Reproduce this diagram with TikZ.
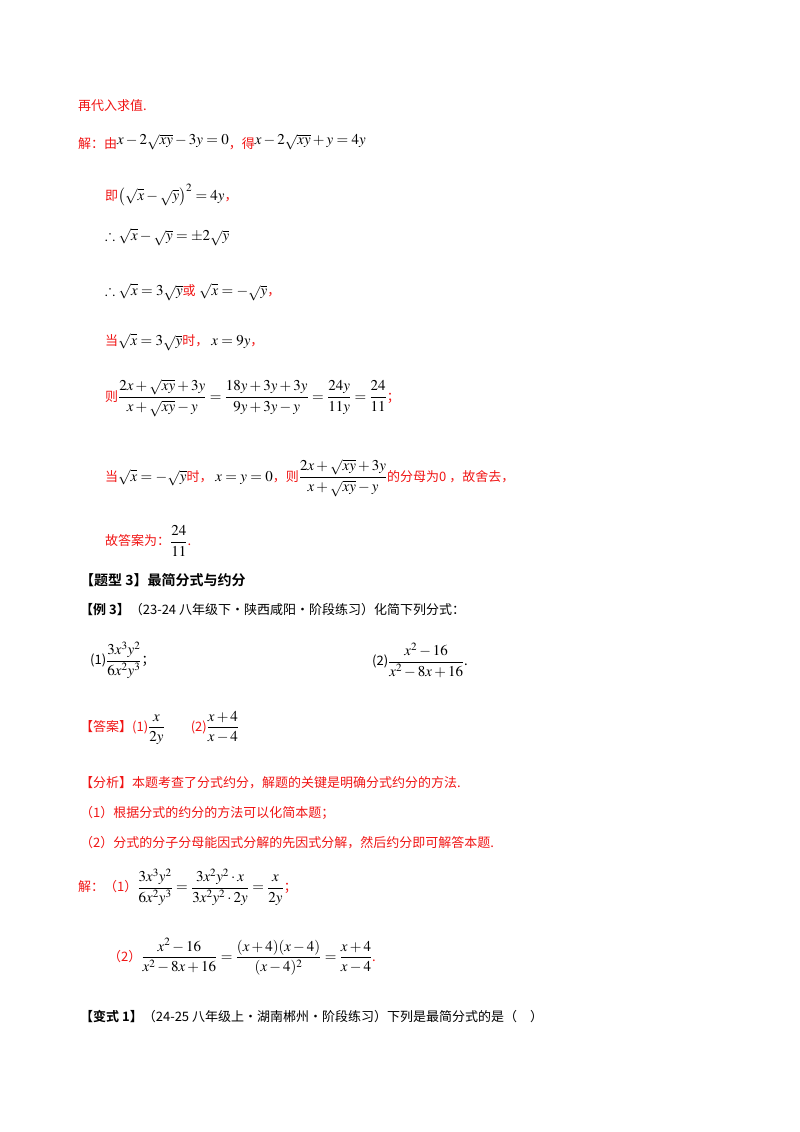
\documentclass[tikz,border=0pt]{standalone}
\usepackage{fontspec}
\usepackage{amsmath,amssymb}
\usepackage{mathptmx}
\setmainfont{Noto Sans CJK SC}
\newfontfamily\cjkb{Noto Sans CJK SC Bold}
\definecolor{rd}{RGB}{240,20,20}
\newcommand{\R}[1]{\textcolor{rd}{#1}}
\newcommand{\M}[1]{{\fontsize{15}{18}\selectfont$#1$}}
\begin{document}
\begin{tikzpicture}[x=1pt,y=-1pt,
  t/.style={anchor=west,inner sep=0pt,font=\fontsize{13}{16}\selectfont},
  r/.style={t,text=rd}]
\useasboundingbox (0,0) rectangle (800,1132);
\node[r] (l1) at (78,106) {再代入求值.};
\node[t] (l2) at (78,142) {\R{解：由}\raisebox{4pt}{\M{x-2\sqrt{xy}-3y=0}}\R{ ，得}\raisebox{4pt}{\M{x-2\sqrt{xy}+y=4y}}};
\node[t] (l3) at (105,195) {\R{即}\M{\left(\sqrt{x}-\sqrt{y}\right)^2=4y}\R{，}};
\node[t] (l4) at (105,237) {\M{\therefore\sqrt{x}-\sqrt{y}=\pm2\sqrt{y}}};
\node[t] (l5) at (105,292) {\M{\therefore\sqrt{x}=3\sqrt{y}}\R{或}\M{\ \sqrt{x}=-\sqrt{y}}\R{，}};
\node[t] (l6) at (105,342) {\R{当}\M{\sqrt{x}=3\sqrt{y}}\R{时，}\ \M{x=9y}\R{，}};
\node[t] (l7) at (105,398) {\R{则}\M{\dfrac{2x+\sqrt{xy}+3y}{x+\sqrt{xy}-y}=\dfrac{18y+3y+3y}{9y+3y-y}=\dfrac{24y}{11y}=\dfrac{24}{11}}\R{；}};
\node[t] (l8) at (105,478) {\R{当}\M{\sqrt{x}=-\sqrt{y}}\R{时，}\ \M{x=y=0}\R{，则}\M{\dfrac{2x+\sqrt{xy}+3y}{x+\sqrt{xy}-y}}\R{ 的分母为0 ，故舍去，}};
\node[t] (l9) at (105,541) {\R{故答案为：}\M{\dfrac{24}{11}}\R{.}};
\node[t,font=\fontsize{14}{16}\cjkb] (h) at (80,580) {【题型 3】最简分式与约分};
\node[t] (e3) at (80,610) {{\cjkb【例 3】}（23-24 八年级下·陕西咸阳·阶段练习）化简下列分式：};
\node[t] (p1) at (90,660) {(1)\M{\dfrac{3x^3y^2}{6x^2y^3}}；};
\node[t] (p2) at (372,660) {(2)\M{\dfrac{x^2-16}{x^2-8x+16}}.};
\node[t] (ans) at (80,728) {\R{【答案】(1)}\M{\dfrac{x}{2y}}\qquad\R{(2)}\M{\dfrac{x+4}{x-4}}};
\node[r] (a1) at (80,783) {【分析】本题考查了分式约分，解题的关键是明确分式约分的方法.};
\node[r] (a2) at (80,813) {（1）根据分式的约分的方法可以化简本题；};
\node[r] (a3) at (80,843) {（2）分式的分子分母能因式分解的先因式分解，然后约分即可解答本题.};
\node[t] (s1) at (78,887) {\R{解：（1）}\M{\dfrac{3x^3y^2}{6x^2y^3}=\dfrac{3x^2y^2\cdot x}{3x^2y^2\cdot 2y}=\dfrac{x}{2y}}\R{；}};
\node[t] (s2) at (108,957) {\R{（2）}\M{\dfrac{x^2-16}{x^2-8x+16}=\dfrac{(x+4)(x-4)}{(x-4)^2}=\dfrac{x+4}{x-4}}\R{.}};
\node[t] (v1) at (80,1017) {{\cjkb【变式 1】}（24-25 八年级上·湖南郴州·阶段练习）下列是最简分式的是（\quad ）};
\end{tikzpicture}
\end{document}
